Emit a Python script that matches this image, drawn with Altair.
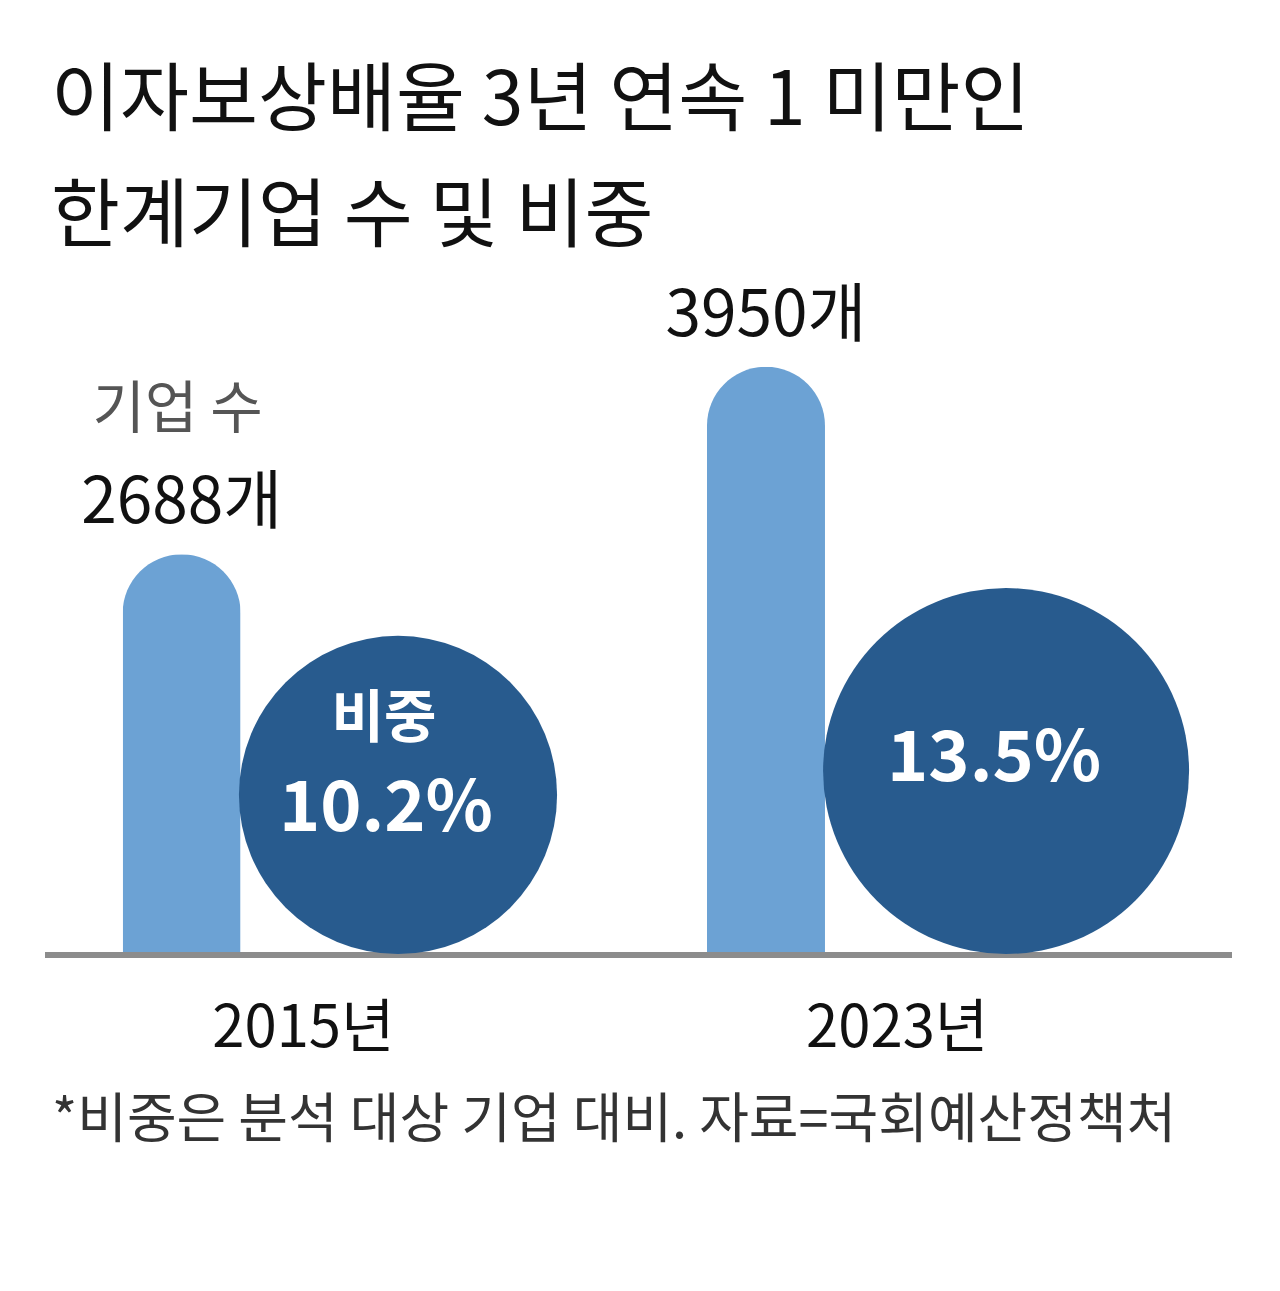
import altair as alt
import pandas as pd

# ---- data ----
YEARS = ["2015년", "2023년"]
COUNTS = [2688, 3950]
SHARES = [10.2, 13.5]
COUNT_LABELS = ["2688개", "3950개"]
SHARE_LABELS = ["10.2%", "13.5%"]
TITLE_LINES = ["이자보상배율 3년 연속 1 미만인", "한계기업 수 및 비중"]
COUNT_CAPTION = "기업 수"
SHARE_CAPTION = "비중"
FOOTNOTE = "*비중은 분석 대상 기업 대비. 자료=국회예산정책처"

df = pd.DataFrame({
    "year": YEARS,
    "count": COUNTS,
    "share": SHARES,
    "count_label": COUNT_LABELS,
    "share_label": SHARE_LABELS,
})

# ---- layout / style ----
W, H = 1264, 687          # plot area; baseline at bottom
YMAX = 4620               # count units at top of plot
G0, STEP = 170, 589       # first group position and spacing (px)
BW = 118                  # bar width
DMAX = 366                # diameter of largest circle
SMAX = max(SHARES)

LIGHT = "#6ca2d4"
DARK = "#285b8e"
KR = "'Noto Sans CJK KR', sans-serif"
NARROW = "'Liberation Sans Narrow', 'Noto Sans CJK KR', sans-serif"

xscale = alt.Scale(domain=[0, W], nice=False, zero=False)
yscale = alt.Scale(domain=[0, YMAX], nice=False)

base = (
    alt.Chart(df)
    .transform_window(idx="row_number()")
    .transform_calculate(
        bx=f"{G0} + (datum.idx - 1) * {STEP}",
        r=f"{DMAX / 2} * sqrt(datum.share / {SMAX})",
    )
    .transform_calculate(
        cx=f"datum.bx + {BW / 2} + datum.r",
        cy=f"datum.r * {YMAX} / {H}",
        lx=f"datum.bx + {BW / 2} + 0.4 * datum.r",
        sly=f"(datum.r + (datum.idx == 1 ? -15 : 11)) * {YMAX} / {H}",
        cap_y=f"(datum.r + 75) * {YMAX} / {H}",
    )
)

bars = base.mark_bar(
    width=BW, color=LIGHT, cornerRadiusTopLeft=BW / 2, cornerRadiusTopRight=BW / 2
).encode(
    x=alt.X("bx:Q", scale=xscale, axis=None),
    y=alt.Y("count:Q", scale=yscale, axis=None),
)

baseline = alt.Chart(pd.DataFrame({"a": [0]})).mark_rule(
    color="#8c8c8c", strokeWidth=6
).encode(x=alt.value(37), x2=alt.value(1224), y=alt.value(H + 1))

circles = base.mark_point(
    shape="circle", filled=True, opacity=1, color=DARK, strokeWidth=0
).encode(
    x=alt.X("cx:Q", scale=xscale, axis=None),
    y=alt.Y("cy:Q", scale=yscale, axis=None),
    size=alt.Size("share:Q", scale=alt.Scale(type="linear", domain=[0, SMAX], range=[0, DMAX ** 2]), legend=None),
)

count_text = base.mark_text(
    font=NARROW, fontSize=64, color="#111111", baseline="middle", dy=-50
).encode(
    x=alt.X("bx:Q", scale=xscale, axis=None),
    y=alt.Y("count:Q", scale=yscale, axis=None),
    text="count_label:N",
)

count_caption = base.transform_filter("datum.idx == 1").transform_calculate(
    cap=f"'{COUNT_CAPTION}'"
).mark_text(
    font=KR, fontSize=57, color="#555555", baseline="middle", dy=-143, dx=-4
).encode(
    x=alt.X("bx:Q", scale=xscale, axis=None),
    y=alt.Y("count:Q", scale=yscale, axis=None),
    text="cap:N",
)

share_text = base.mark_text(
    font=NARROW, fontSize=70, fontWeight="bold", color="white", baseline="middle", dx=-12
).encode(
    x=alt.X("cx:Q", scale=xscale, axis=None),
    y=alt.Y("sly:Q", scale=yscale, axis=None),
    text="share_label:N",
)

share_caption = base.transform_filter("datum.idx == 1").transform_calculate(
    cap=f"'{SHARE_CAPTION}'"
).mark_text(
    font=KR, fontSize=57, fontWeight="bold", color="white", baseline="middle", dx=-14
).encode(
    x=alt.X("cx:Q", scale=xscale, axis=None),
    y=alt.Y("cap_y:Q", scale=yscale, axis=None),
    text="cap:N",
)

year_text = base.mark_text(
    font=NARROW, fontSize=58, color="#111111", baseline="middle"
).encode(
    x=alt.X("lx:Q", scale=xscale, axis=None),
    y=alt.value(H + 76),
    text="year:N",
)

foot = alt.Chart(pd.DataFrame({"t": [FOOTNOTE]})).mark_text(
    font=KR, fontSize=54, color="#333333", baseline="middle", align="left"
).encode(
    x=alt.value(44),
    y=alt.value(H + 168),
    text="t:N",
)

chart = (
    alt.layer(bars, baseline, circles, count_text, count_caption, share_text,
              share_caption, year_text, foot)
    .properties(
        width=W,
        height=H,
        padding={"left": 0, "right": 0, "top": 57, "bottom": 30},
        title=alt.TitleParams(
            text=TITLE_LINES,
            anchor="start",
            fontSize=75,
            font=KR,
            fontWeight="normal",
            color="#111111",
            lineHeight=116,
            dx=43,
            offset=10,
        ),
        background="white",
    )
    .configure_view(stroke=None)
)

chart.save("out.html", embed_options={"renderer": "svg", "actions": False})
